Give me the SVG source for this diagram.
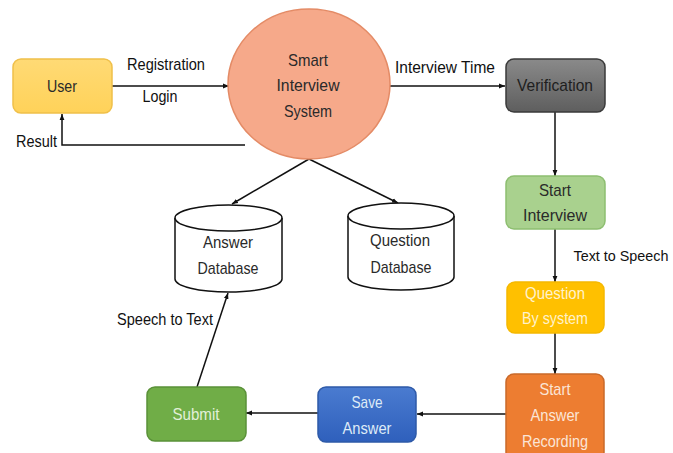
<svg xmlns="http://www.w3.org/2000/svg" width="673" height="453" viewBox="0 0 673 453">
<defs>
<marker id="arr" viewBox="0 0 10 10" refX="10" refY="5" markerWidth="6" markerHeight="6" orient="auto" markerUnits="userSpaceOnUse">
<path d="M0,1 L10,5 L0,9 z" fill="#111"/>
</marker>
<linearGradient id="gUser" x1="0" y1="0" x2="0" y2="1"><stop offset="0" stop-color="#FFDA75"/><stop offset="1" stop-color="#FFD259"/></linearGradient>
<linearGradient id="gVer" x1="0" y1="0" x2="0" y2="1"><stop offset="0" stop-color="#8A8A8A"/><stop offset="1" stop-color="#5E5E5E"/></linearGradient>
<linearGradient id="gSave" x1="0" y1="0" x2="0" y2="1"><stop offset="0" stop-color="#4A7BD0"/><stop offset="1" stop-color="#2F60BC"/></linearGradient>
</defs>
<style>
text{font-family:"Liberation Sans",Arial,sans-serif;font-size:17px;text-anchor:middle;}
.lbl{fill:#111;}
.dark{fill:#2a2a2a;}
.conn{fill:none;stroke:#111;stroke-width:1.5;}
.db{fill:#fff;stroke:#111;stroke-width:1.5;}
</style>
<rect width="673" height="453" fill="#fff"/>

<g id="connectors">
<line class="conn" x1="112" y1="86" x2="229" y2="86" marker-end="url(#arr)"/>
<polyline class="conn" points="245,145 62,145 62,114" marker-end="url(#arr)"/>
<line class="conn" x1="390" y1="86" x2="505" y2="86" marker-end="url(#arr)"/>
<line class="conn" x1="555" y1="112" x2="555" y2="176" marker-end="url(#arr)"/>
<line class="conn" x1="555" y1="229" x2="555" y2="282" marker-end="url(#arr)"/>
<line class="conn" x1="555" y1="333" x2="555" y2="374" marker-end="url(#arr)"/>
<line class="conn" x1="506" y1="414" x2="417" y2="414" marker-end="url(#arr)"/>
<line class="conn" x1="318" y1="413" x2="246" y2="413" marker-end="url(#arr)"/>
<line class="conn" x1="197" y1="387" x2="228" y2="293" marker-end="url(#arr)"/>
<line class="conn" x1="309" y1="159" x2="232" y2="204" marker-end="url(#arr)"/>
<line class="conn" x1="309" y1="159" x2="398" y2="203" marker-end="url(#arr)"/>
<text class="lbl" x="166" y="70" textLength="78" lengthAdjust="spacingAndGlyphs">Registration</text>
<text class="lbl" x="160" y="102" textLength="35" lengthAdjust="spacingAndGlyphs">Login</text>
<text class="lbl" x="36.5" y="147" textLength="41" lengthAdjust="spacingAndGlyphs">Result</text>
<text class="lbl" x="445" y="73" textLength="100" lengthAdjust="spacingAndGlyphs">Interview Time</text>
<text class="lbl" x="621" y="261" style="font-size:15px" textLength="95" lengthAdjust="spacingAndGlyphs">Text to Speech</text>
<text class="lbl" x="165" y="325" textLength="96" lengthAdjust="spacingAndGlyphs">Speech to Text</text>
</g>

<g id="user">
<rect x="13" y="59" width="99" height="54" rx="8" fill="url(#gUser)" stroke="#F0C04A" stroke-width="1.5"/>
<text class="dark" x="62" y="92" textLength="30" lengthAdjust="spacingAndGlyphs">User</text>
</g>

<g id="smart-interview-system">
<ellipse cx="309" cy="84" rx="81" ry="75" fill="#F6A98A" stroke="#E48B66" stroke-width="1.5"/>
<text class="dark" x="308" y="66" textLength="40" lengthAdjust="spacingAndGlyphs">Smart</text>
<text class="dark" x="308" y="91" textLength="63" lengthAdjust="spacingAndGlyphs">Interview</text>
<text class="dark" x="308" y="117" textLength="48" lengthAdjust="spacingAndGlyphs">System</text>
</g>

<g id="verification">
<rect x="506" y="59" width="99" height="53" rx="8" fill="url(#gVer)" stroke="#3A3A3A" stroke-width="1.5"/>
<text x="555" y="91" fill="#1e1e1e" textLength="76" lengthAdjust="spacingAndGlyphs">Verification</text>
</g>

<g id="start-interview">
<rect x="506" y="176" width="99" height="53" rx="8" fill="#A9D18E" stroke="#8DBE70" stroke-width="1.5"/>
<text class="dark" x="555" y="196" textLength="32" lengthAdjust="spacingAndGlyphs">Start</text>
<text class="dark" x="555" y="221" textLength="64" lengthAdjust="spacingAndGlyphs">Interview</text>
</g>

<g id="question-by-system">
<rect x="507" y="282" width="97" height="51" rx="8" fill="#FFC000" stroke="#F5B800" stroke-width="1.5"/>
<text x="555" y="299" fill="#FFF2CC" textLength="60" lengthAdjust="spacingAndGlyphs">Question</text>
<text x="555" y="324" fill="#FFF2CC" textLength="66" lengthAdjust="spacingAndGlyphs">By system</text>
</g>

<g id="start-answer-recording">
<rect x="506" y="374" width="98" height="86" rx="8" fill="#ED7D31" stroke="#C9692A" stroke-width="1.5"/>
<text x="555" y="395" fill="#FBE5D6" textLength="31" lengthAdjust="spacingAndGlyphs">Start</text>
<text x="555" y="421" fill="#FBE5D6" textLength="49" lengthAdjust="spacingAndGlyphs">Answer</text>
<text x="555" y="447" fill="#FBE5D6" textLength="66" lengthAdjust="spacingAndGlyphs">Recording</text>
</g>

<g id="save-answer">
<rect x="318" y="387" width="98" height="55" rx="8" fill="url(#gSave)" stroke="#2E5AA8" stroke-width="1.5"/>
<text x="367" y="408" fill="#DEEBF7" textLength="31" lengthAdjust="spacingAndGlyphs">Save</text>
<text x="367" y="434" fill="#DEEBF7" textLength="49" lengthAdjust="spacingAndGlyphs">Answer</text>
</g>

<g id="submit">
<rect x="147" y="387" width="99" height="54" rx="8" fill="#70AD47" stroke="#5A9138" stroke-width="1.5"/>
<text x="196" y="420" fill="#E2F0D9" textLength="47" lengthAdjust="spacingAndGlyphs">Submit</text>
</g>

<g id="answer-database">
<path class="db" d="M175,218 L175,279 A53.5,13 0 0 0 282,279 L282,218"/>
<ellipse class="db" cx="228.5" cy="218" rx="53.5" ry="13"/>
<text class="dark" x="228" y="248" textLength="50" lengthAdjust="spacingAndGlyphs">Answer</text>
<text class="dark" x="228" y="274" textLength="61" lengthAdjust="spacingAndGlyphs">Database</text>
</g>

<g id="question-database">
<path class="db" d="M348,216 L348,277 A53,13 0 0 0 454,277 L454,216"/>
<ellipse class="db" cx="401" cy="216" rx="53" ry="13"/>
<text class="dark" x="400" y="246" textLength="60" lengthAdjust="spacingAndGlyphs">Question</text>
<text class="dark" x="401" y="273" textLength="61" lengthAdjust="spacingAndGlyphs">Database</text>
</g>
</svg>
